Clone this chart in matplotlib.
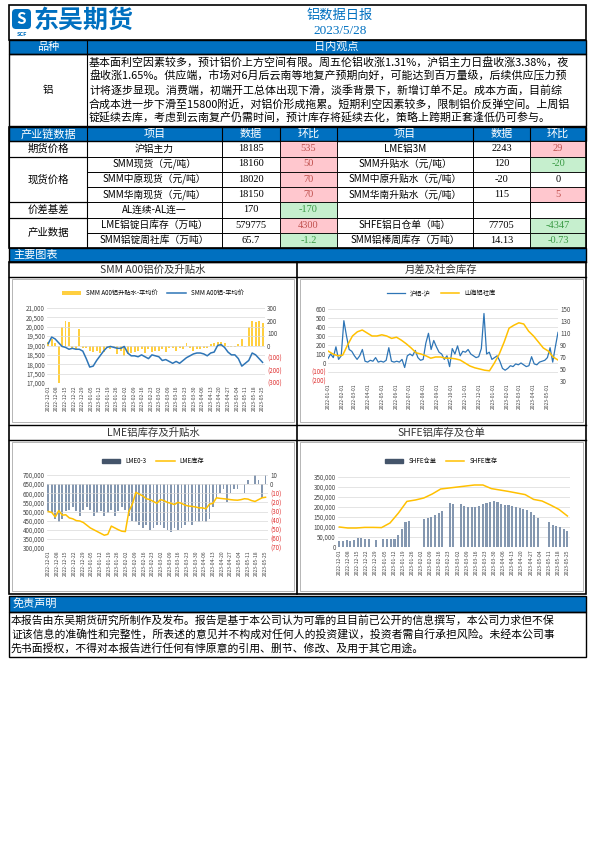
import matplotlib
matplotlib.use("Agg")
import matplotlib.pyplot as plt
import matplotlib.patches as mp
import matplotlib.ticker as mt
import numpy as np
import pandas as pd

plt.rcParams['font.family'] = ['Noto Sans CJK SC', 'DejaVu Sans']

W, H = 595, 842
BLUE = '#0070C0'
RED_BG, RED_TX = '#FFC7CE', '#C0504D'
GRN_BG, GRN_TX = '#C6EFCE', '#3A9A45'
YEL = '#FFC000'
LBLUE = '#2E75B6'

# ---------- data ----------
title = "铝数据日报"
date_str = "2023/5/28"
view_lines = [
    "基本面利空因素较多，预计铝价上方空间有限。周五伦铝收涨1.31%，沪铝主力日盘收涨3.38%，夜",
    "盘收涨1.65%。供应端，市场对6月后云南等地复产预期向好，可能达到百万量级，后续供应压力预",
    "计将逐步显现。消费端，初端开工总体出现下滑，淡季背景下，新增订单不足。成本方面，目前综",
    "合成本进一步下滑至15800附近，对铝价形成拖累。短期利空因素较多，限制铝价反弹空间。上周铝",
    "锭延续去库，考虑到云南复产仍需时间，预计库存将延续去化，策略上跨期正套逢低仍可参与。",
]
table_groups = ["期货价格", "现货价格", "价差基差", "产业数据"]
left_items = ["沪铝主力", "SMM现货（元/吨）", "SMM中原现货（元/吨）", "SMM华南现货（元/吨）",
              "AL连续-AL连一", "LME铝锭日库存（万吨）", "SMM铝锭周社库（万吨）"]
left_vals = ["18185", "18160", "18020", "18150", "170", "579775", "65.7"]
left_chg = [535, 50, 70, 70, -170, 4300, -1.2]
right_items = ["LME铝3M", "SMM升贴水（元/吨）", "SMM中原升贴水（元/吨）", "SMM华南升贴水（元/吨）",
               "", "SHFE铝日仓单（吨）", "SMM铝棒周库存（万吨）"]
right_vals = ["2243", "120", "-20", "115", "", "77705", "14.13"]
right_chg = [29, -20, 0, 5, None, -4347, -0.73]

c1_price = [19100,19450,19350,19150,18950,18900,18800,18850,18800,18800,18700,
            18300,17850,17900,18200,18450,18700,18900,18950,18900,18850,18850,
            18950,18600,18450,18450,18400,18500,18400,18300,18500,18450,
            18400,18200,18250,18150,18050,18150,18050,18200,18350,18450,18550,18600,
            18600,18550,18450,18600,18650,19000,19050,18900,18650,18500,
            18500,18300,17900,18050,18200,18600,18500,18300,18100]
c1_prem = [30,50,20,-300,150,200,190,-20,-30,130,-20,
           -20,-40,-50,-40,-60,-50,-10,-30,-20,-70,-40,
           -80,-70,-60,-50,-40,-30,-60,-30,-50,-40,
           -40,-30,-50,-20,-20,-40,-20,-30,20,-20,-40,-30,
           -30,-20,-20,10,20,30,30,20,-10,-10,
           -10,10,50,-10,150,200,190,200,180]
c2_spread = [50,100,60,180,40,80, 470,300,150,130,80, 40,80,150,20,10, 30,20,60,10,20,
             10,30,170,20,10, 20,10,40,-50,80, 100,80,140,60,30, 40,220,330,150,250,180,
             120,100,40,80,-40, 160,100,190,80,130, 120,150,100,80,60, 70,160,550,100,120,40,
             60,80,20,-60,-80, -60,-30,-40,-10,-20, 0,-20,-40,-30,70, -10,-20,10,20,30,
             60,170,10,180,340]
c2_social = [80,75,72,73,90,105,112,115,110,105,105,107,105,101,103,98,92,85,77,75,72,
             68,70,70,68,68,67,65,60,55,52,50,48,47,60,75,95,118,123,127,125,113,105,
             95,85,80,70,65]
c3_inv = [500000,495000,470000,505000,480000,482000,465000,460000,450000,448000,440000,
          425000,410000,400000,390000,380000,370000,375000,420000,410000,400000,392000,
          390000,500000,540000,605000,595000,585000,570000,565000,555000,545000,
          565000,560000,550000,545000,538000,550000,545000,535000,530000,528000,525000,520000,
          520000,515000,540000,545000,575000,572000,570000,568000,565000,563000,
          562000,565000,570000,568000,560000,555000,565000,575000,578000]
c3_spread = [-30,-32,-38,-42,-38,-30,-28,-25,-30,-35,-28,
             -25,-28,-35,-32,-30,-35,-32,-28,-35,-30,-25,
             -28,-35,-40,-42,-45,-48,-45,-50,-48,-45,
             -45,-48,-50,-52,-48,-50,-48,-45,-42,-45,-40,-42,
             -40,-42,-38,-25,-15,-10,-5,-20,-10,-5,
             -5,0,-10,5,0,10,5,-15,10]
c4_inv = [100000,95000,95000,98000,98000,97000,120000,170000,228000,235000,245000,265000,
          290000,295000,300000,305000,310000,310000,292000,285000,278000,270000,262000,
          238000,230000,210000,188000,155000]
c4_wr = [30000,32000,33000,32000,34000,45000,44000,40000,38000,0,36000,
         0,40000,40000,41000,42000,60000,90000,125000,130000,0,0,
         0,140000,145000,150000,160000,170000,180000,0,220000,215000,
         0,215000,205000,200000,200000,200000,205000,215000,220000,225000,228000,225000,
         215000,212000,210000,205000,200000,195000,190000,185000,175000,160000,
         145000,0,0,125000,110000,105000,100000,90000,80000]

# ---------- figure ----------
fig = plt.figure(figsize=(W/100, H/100), dpi=100)
ov = fig.add_axes([0, 0, 1, 1], zorder=0)
ov.set_xlim(0, W); ov.set_ylim(H, 0); ov.axis('off')

L, R = 9, 586
SERIF = ['Liberation Serif', 'Noto Sans CJK SC']
def rect(x0, y0, x1, y1, fc='none', ec='black', lw=0.8, z=1):
    ov.add_patch(mp.Rectangle((x0, y0), x1-x0, y1-y0, fc=fc, ec=ec, lw=lw, zorder=z))
def txt(x, y, s, size=7, color='black', ha='center', weight='normal', **kw):
    ov.text(x, y, s, fontsize=size, color=color, ha=ha, va='center', weight=weight, **kw)

# header
rect(L, 5, R, 40, lw=1.2)
ov.add_patch(mp.FancyBboxPatch((12, 9), 19, 20, boxstyle='round,pad=0,rounding_size=4', fc=BLUE, ec='none'))
txt(21.5, 19, "S", 11, 'white', weight='bold')
txt(21.5, 34, "SCF", 4, BLUE, weight='bold')
txt(34, 21, "东吴期货", 18, BLUE, ha='left', weight='bold')
txt(340, 15, title, 9.5, BLUE)
txt(340, 31, date_str, 9.5, BLUE, family=SERIF)

# view section
rect(L, 40, R, 54, fc=BLUE, lw=1)
txt(48, 47, "品种", 8, 'white')
txt(336, 47, "日内观点", 8, 'white')
rect(L, 54, R, 126, lw=1)
ov.plot([87, 87], [40, 126], color='black', lw=0.8)
txt(48, 90, "铝", 7.5)
for i, ln in enumerate(view_lines):
    txt(89, 62 + i*14, ln, 7.9, ha='left')

# table
cols = [L, 87, 222, 280, 337, 473, 530, R]
rect(L, 127, R, 141, fc=BLUE, lw=1)
for x in cols[1:-1]:
    ov.plot([x, x], [127, 141], color='black', lw=0.8)
hdrs = ["产业链数据", "项目", "数据", "环比", "项目", "数据", "环比"]
for i, h in enumerate(hdrs):
    txt((cols[i]+cols[i+1])/2, 134, h, 8, 'white')
row_y = [141, 156.5, 171.5, 186.5, 202, 217.5, 232.5, 248]
group_rows = [(0, 1), (1, 4), (4, 5), (5, 7)]
for g, (a, b) in zip(table_groups, group_rows):
    rect(L, row_y[a], 87, row_y[b], lw=0.8)
    txt(48, (row_y[a]+row_y[b])/2, g, 7.5)
def chg_cell(x0, x1, y0, y1, v):
    if v is None:
        rect(x0, y0, x1, y1, lw=0.6); return
    if v > 0:
        fc, tc = RED_BG, RED_TX
    elif v < 0:
        fc, tc = GRN_BG, GRN_TX
    else:
        fc, tc = 'white', 'black'
    rect(x0, y0, x1, y1, fc=fc, lw=0.6)
    txt((x0+x1)/2, (y0+y1)/2, f"{v:g}", 7.5, tc, family=SERIF)
for r in range(7):
    y0, y1 = row_y[r], row_y[r+1]
    yc = (y0+y1)/2
    for x0, x1 in [(87, 222), (222, 280), (337, 473), (473, 530)]:
        rect(x0, y0, x1, y1, lw=0.6)
    txt(154.5, yc, left_items[r], 7)
    txt(251, yc, left_vals[r], 7.5, family=SERIF)
    chg_cell(280, 337, y0, y1, left_chg[r])
    txt(405, yc, right_items[r], 7)
    txt(501.5, yc, right_vals[r], 7.5, family=SERIF)
    chg_cell(530, R, y0, y1, right_chg[r])
rect(L, 127, R, 248, lw=1.2)

# charts section
rect(L, 248, R, 262, fc=BLUE, lw=1)
txt(13, 255, "主要图表", 8, 'white', ha='left')
rect(L, 262, R, 594, lw=1.2)
ov.plot([297, 297], [262, 594], color='black', lw=1.2)
for y in [262, 277, 425, 440]:
    ov.plot([L, R], [y, y], color='black', lw=1)
txt(153, 270, "SMM A00铝价及升贴水", 7.5, '#333333')
txt(441, 270, "月差及社会库存", 7.5, '#333333')
txt(153, 433, "LME铝库存及升贴水", 7.5, '#333333')
txt(441, 433, "SHFE铝库存及仓单", 7.5, '#333333')
for (x0, y0, x1, y1) in [(12, 279, 294, 422), (300, 279, 583, 422), (12, 442, 294, 591), (300, 442, 583, 591)]:
    rect(x0, y0, x1, y1, lw=0.5, ec='#999999')

# disclaimer
rect(L, 596, R, 612, fc=BLUE, lw=1)
txt(13, 604, "免责声明", 8, 'white', ha='left')
rect(L, 612, R, 657, lw=1)
disc = ["本报告由东吴期货研究所制作及发布。报告是基于本公司认为可靠的且目前已公开的信息撰写，本公司力求但不保",
        "证该信息的准确性和完整性，所表述的意见并不构成对任何人的投资建议，投资者需自行承担风险。未经本公司事",
        "先书面授权，不得对本报告进行任何有悖原意的引用、删节、修改、及用于其它用途。"]
for i, ln in enumerate(disc):
    txt(11, 620 + i*14, ln, 7.8, ha='left')

# ---------- chart helpers ----------
def pax(x0, y0, x1, y1):
    return fig.add_axes([x0/W, 1-y1/H, (x1-x0)/W, (y1-y0)/H], zorder=2)

def paren_fmt(v, p):
    return f"({abs(v):,.0f})" if v < 0 else f"{v:,.0f}"

def style(ax, ax2, ticks, fmtd='%Y-%m-%d'):
    for a in (ax, ax2):
        for s in a.spines.values():
            s.set_visible(False)
        a.tick_params(length=0, labelsize=4.5, colors='#444444', pad=1.5)
    ax.grid(axis='y', color='#D9D9D9', lw=0.5)
    ax.set_axisbelow(True)
    ax.set_xticks(ticks)
    ax.set_xticklabels([t.strftime(fmtd) for t in ticks], rotation=90, fontsize=3.6)
    ax.yaxis.set_major_formatter(mt.FuncFormatter(lambda v, p: f"{v:,.0f}"))
    ax2.yaxis.set_major_formatter(mt.FuncFormatter(paren_fmt))
    for lab, v in zip(ax2.get_yticklabels(), ax2.get_yticks()):
        if v < 0:
            lab.set_color('#E03030')

def legend(fig_x, fig_y, handles, labels):
    fig.legend(handles, labels, loc='center', bbox_to_anchor=(fig_x/W, 1-fig_y/H), ncol=2,
               frameon=False, fontsize=4.5, handlelength=3, columnspacing=1.5)

wk = pd.date_range('2022-12-01', '2023-05-25', freq='7D')

# chart 1
d1 = pd.date_range('2022-12-01', '2023-05-25', periods=len(c1_price))
ax = pax(47, 308, 265, 383); ax2 = ax.twinx()
b = ax2.bar(d1, c1_prem, width=1.6, color=YEL, alpha=0.75, zorder=1)
ax2.set_ylim(-300, 300); ax2.set_yticks(range(-300, 301, 100))
ax.set_zorder(3); ax.patch.set_visible(False)
l, = ax.plot(d1, c1_price, color=LBLUE, lw=1.1)
ax.set_ylim(17000, 21000); ax.set_yticks(range(17000, 21001, 500))
ax.set_xlim(d1[0] - pd.Timedelta(days=1), d1[-1] + pd.Timedelta(days=2))
style(ax, ax2, wk)
legend(153, 293, [b, l], ["SMM A00铝升贴水-平均价", "SMM A00铝-平均价"])

# chart 2
d2 = pd.date_range('2022-01-01', '2023-05-25', periods=len(c2_spread))
d2s = pd.date_range('2022-01-01', '2023-05-25', periods=len(c2_social))
ax = pax(328, 309, 558, 381); ax2 = ax.twinx()
l1, = ax.plot(d2, c2_spread, color=LBLUE, lw=0.9)
l2, = ax2.plot(d2s, c2_social, color=YEL, lw=1.1)
ax.set_ylim(-200, 600); ax.set_yticks(range(-200, 601, 100))
ax2.set_ylim(30, 150); ax2.set_yticks(range(30, 151, 20))
ax.set_xlim(d2[0], d2[-1])
mt2 = pd.date_range('2022-01-01', '2023-05-01', freq='MS')
style(ax, ax2, mt2)
ax.yaxis.set_major_formatter(mt.FuncFormatter(paren_fmt))
for lab, v in zip(ax.get_yticklabels(), ax.get_yticks()):
    if v < 0:
        lab.set_color('#E03030')
ax2.yaxis.set_major_formatter(mt.FuncFormatter(lambda v, p: f"{v:.0f}"))
legend(441, 293, [l1, l2], ["沪铝-沪", "山海铝社库"])

# chart 3
d3 = pd.date_range('2022-12-01', '2023-05-25', periods=len(c3_inv))
ax = pax(47, 475, 268, 548); ax2 = ax.twinx()
b3 = ax2.bar(d3, c3_spread, width=1.4, color='#8497B0', zorder=1)
ax2.set_ylim(-70, 10); ax2.set_yticks(range(-70, 11, 10))
ax.set_zorder(3); ax.patch.set_visible(False)
l3, = ax.plot(d3, c3_inv, color=YEL, lw=1.1)
ax.set_ylim(300000, 700000); ax.set_yticks(range(300000, 700001, 50000))
ax.set_xlim(d3[0] - pd.Timedelta(days=1), d3[-1] + pd.Timedelta(days=2))
style(ax, ax2, wk)
b3h = mp.Patch(color='#44546A')
legend(153, 461, [b3h, l3], ["LME0-3", "LME库存"])

# chart 4
d4b = pd.date_range('2022-12-01', '2023-05-25', periods=len(c4_wr))
d4l = pd.date_range('2022-12-01', '2023-05-25', periods=len(c4_inv))
ax = pax(338, 477, 570, 547)
b4 = ax.bar(d4b, c4_wr, width=1.6, color='#8497B0')
l4, = ax.plot(d4l, c4_inv, color=YEL, lw=1.1)
ax.set_ylim(0, 350000); ax.set_yticks(range(0, 350001, 50000))
ax.set_xlim(d4b[0] - pd.Timedelta(days=1), d4b[-1] + pd.Timedelta(days=2))
for s in ax.spines.values():
    s.set_visible(False)
ax.tick_params(length=0, labelsize=4.5, colors='#444444', pad=1.5)
ax.grid(axis='y', color='#D9D9D9', lw=0.5); ax.set_axisbelow(True)
ax.set_xticks(wk)
ax.set_xticklabels([t.strftime('%Y-%m-%d') for t in wk], rotation=90, fontsize=3.6)
ax.yaxis.set_major_formatter(mt.FuncFormatter(lambda v, p: f"{v:,.0f}"))
legend(441, 461, [mp.Patch(color='#44546A'), l4], ["SHFE仓单", "SHFE库存"])

fig.savefig('out.png', dpi=100)
